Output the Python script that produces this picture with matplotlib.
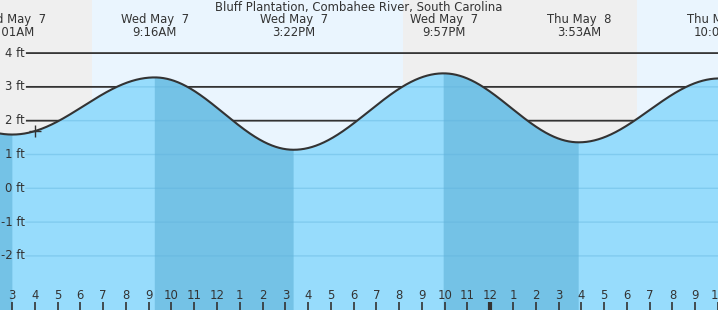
import numpy as np
import matplotlib
matplotlib.use("Agg")
import matplotlib.pyplot as plt

title = "Bluff Plantation, Combahee River, South Carolina"

# tide extremes: hours from midnight May 7, heights in ft
ext_hours = [3.017, 9.267, 15.367, 21.95, 27.883, 34.07]
ext_heights = [1.59, 3.28, 1.14, 3.40, 1.36, 3.25]
ext_day = ["Wed May  7", "Wed May  7", "Wed May  7", "Wed May  7", "Thu May  8", "Thu May  8"]
ext_time = ["3:01AM", "9:16AM", "3:22PM", "9:57PM", "3:53AM", "10:04AM"]

# daylight periods (hours)
sunrise = [6.51, 30.45]
sunset = [20.16, 44.0]

yticks = [4, 3, 2, 1, 0, -1, -2]
ytick_labels = ["4 ft", "3 ft", "2 ft", "1 ft", "0 ft", "-1 ft", "-2 ft"]
hour_ticks = list(range(3, 35))
hour_labels = [str((h - 1) % 12 + 1) for h in hour_ticks]
now_hour = 4.0

xmin, xmax = 2.473, 34.0
ymin, ymax = -3.60, 5.57

# tide curve: half-cosine between successive extremes (as tide charts draw it)
t = np.linspace(xmin - 1, xmax + 1, 4000)
ext_t = np.array([-3.2] + ext_hours + [40.3])
ext_h = np.array([3.20] + ext_heights + [1.3])
idx = np.clip(np.searchsorted(ext_t, t) - 1, 0, len(ext_t) - 2)
t0, t1 = ext_t[idx], ext_t[idx + 1]
h0, h1 = ext_h[idx], ext_h[idx + 1]
frac = (t - t0) / (t1 - t0)
curve = h0 + (h1 - h0) * (1 - np.cos(np.pi * frac)) / 2

fig = plt.figure(figsize=(7.18, 3.10), dpi=100)
ax = fig.add_axes([0, 0, 1, 1])
ax.set_xlim(xmin, xmax)
ax.set_ylim(ymin, ymax)
ax.axis("off")

sky_night = "#efefef"
sky_day = "#eaf5fe"
water = "#97dcfc"
water_dark = "#74c2e6"
dark = "#333333"

ax.axvspan(xmin - 5, xmax + 5, color=sky_night, zorder=0, lw=0)
for a, b in zip(sunrise, sunset):
    ax.axvspan(a, b, color=sky_day, zorder=0.1, lw=0)

x_line_start = 3.61
# gridlines in sky (dark) and in water (blue)
for y in yticks:
    sky_part = np.where((curve < y) & (t >= x_line_start), y, np.nan)
    ax.plot(t, sky_part, color=dark, lw=1.3, zorder=1, solid_capstyle="butt")

ax.fill_between(t, curve, ymin - 1, color=water, lw=0, zorder=2)
falling = np.zeros_like(t, dtype=bool)
for i in range(len(ext_t) - 1):
    if ext_h[i] > ext_h[i + 1]:
        falling |= (t >= ext_t[i]) & (t <= ext_t[i + 1])
ax.fill_between(t, curve, ymin - 1, where=falling, color=water_dark, lw=0, zorder=2.1)

for y in yticks:
    w_part = np.where((curve >= y) & (t >= x_line_start), y, np.nan)
    ax.plot(t, w_part, color="#5fb2dc", lw=1.0, alpha=0.4, zorder=2.5)

ax.plot(t, curve, color=dark, lw=1.5, zorder=3)
now_h = np.interp(now_hour, t, curve)
ax.plot([now_hour], [now_h], marker="+", ms=8, mew=1.0, color=dark, zorder=4)

fs = 8.4
for y, lab in zip(yticks, ytick_labels):
    ax.text(3.56, y, lab, ha="right", va="center", fontsize=fs, color=dark, zorder=5)

trans = ax.get_xaxis_transform()
for h, lab in zip(hour_ticks, hour_labels):
    lw = 3 if h == 24 else 1.2
    ax.plot([h, h], [0, 8 / 310], color=dark, lw=lw, transform=trans, zorder=5,
            solid_capstyle="butt")
    ax.text(h, 14.5 / 310, lab, ha="center", va="center", fontsize=fs, color=dark,
            transform=trans, zorder=5)

for h, d, tm in zip(ext_hours, ext_day, ext_time):
    ax.text(h, 1 - 20 / 310, d, ha="center", va="center", fontsize=fs, color=dark,
            transform=trans, zorder=5)
    ax.text(h, 1 - 32 / 310, tm, ha="center", va="center", fontsize=fs, color=dark,
            transform=trans, zorder=5)

ax.text(0.5, 1 - 7 / 310, title, ha="center", va="center", fontsize=fs, color=dark,
        transform=ax.transAxes, zorder=5)

fig.savefig("out.png", dpi=100)
